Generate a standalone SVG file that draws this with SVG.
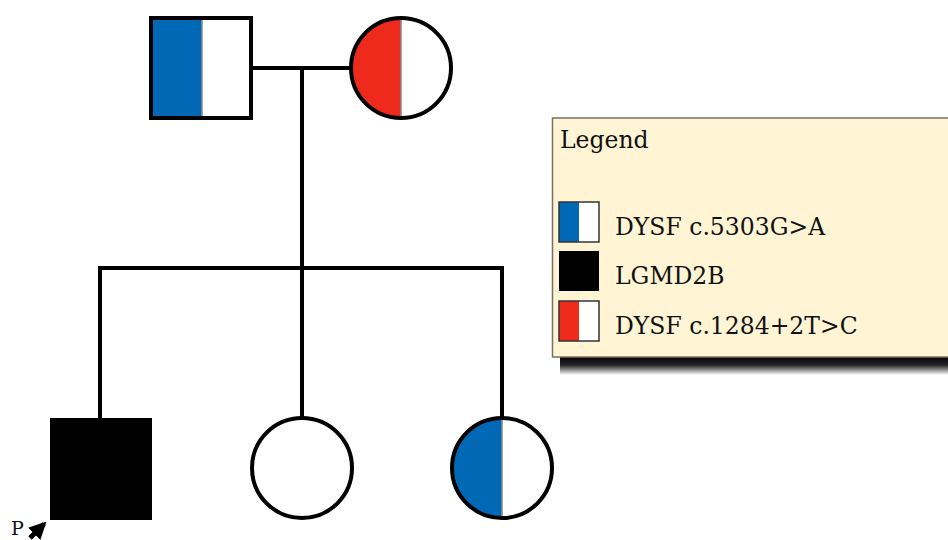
<svg xmlns="http://www.w3.org/2000/svg" width="948" height="540" viewBox="0 0 948 540">
<defs>
<style>
.ln{stroke:#000;stroke-width:4;fill:none}
.out{stroke:#000;stroke-width:4;fill:none}
.txt{font-family:"DejaVu Serif","Liberation Serif",serif;fill:#111}
.div{stroke:#888;stroke-width:1.5}
.sw{stroke:#333;stroke-width:1.5}
</style>
<linearGradient id="sh" x1="0" y1="0" x2="0" y2="1">
<stop offset="0" stop-color="#000" stop-opacity="1"/>
<stop offset="0.45" stop-color="#000" stop-opacity="0.85"/>
<stop offset="1" stop-color="#000" stop-opacity="0"/>
</linearGradient>
<clipPath id="cm"><circle cx="401" cy="68" r="50"/></clipPath>
<clipPath id="cd"><circle cx="502" cy="468" r="50"/></clipPath>
<marker id="ah" viewBox="0 0 10 10" refX="8" refY="5" markerWidth="3.5" markerHeight="3.5" orient="auto"><path d="M0,0 L10,5 L0,10 z" fill="#000"/></marker>
</defs>
<rect width="948" height="540" fill="#fff"/>
<g id="connectors">
<line class="ln" x1="252" y1="68" x2="351" y2="68"/>
<line class="ln" x1="302" y1="68" x2="302" y2="268"/>
<line class="ln" x1="98" y1="268" x2="504" y2="268"/>
<line class="ln" x1="100" y1="268" x2="100" y2="418"/>
<line class="ln" x1="302" y1="268" x2="302" y2="418"/>
<line class="ln" x1="502" y1="268" x2="502" y2="418"/>
</g>
<g id="father">
<rect x="151" y="18" width="51" height="100" fill="#0068b5"/>
<line class="div" x1="202" y1="18" x2="202" y2="118"/>
<rect class="out" x="151" y="18" width="100" height="100"/>
</g>
<g id="mother">
<rect x="351" y="18" width="50" height="100" fill="#ee2a1d" clip-path="url(#cm)"/>
<line class="div" x1="401" y1="18" x2="401" y2="118"/>
<circle class="out" cx="401" cy="68" r="50"/>
</g>
<g id="proband">
<rect x="50" y="418" width="102" height="102" fill="#000"/>
<text class="txt" x="11" y="535" font-size="19">P</text>
<line x1="30" y1="538" x2="44" y2="524" stroke="#000" stroke-width="5" marker-end="url(#ah)"/>
</g>
<g id="sister1">
<circle class="out" cx="302" cy="468" r="50" fill="#fff"/>
</g>
<g id="sister2">
<rect x="452" y="418" width="50" height="100" fill="#0068b5" clip-path="url(#cd)"/>
<line class="div" x1="502" y1="418" x2="502" y2="518"/>
<circle class="out" cx="502" cy="468" r="50"/>
</g>
<g id="legend">
<rect x="560" y="357" width="400" height="18" fill="url(#sh)"/>
<rect x="552.5" y="118" width="400" height="239" fill="#fff5d5" stroke="#7a7060" stroke-width="1.5"/>
<text class="txt" x="560" y="148" font-size="23.5">Legend</text>
<rect x="559" y="202" width="20" height="40" fill="#0068b5"/>
<rect x="579" y="202" width="20" height="40" fill="#fff"/>
<rect class="sw" x="559" y="202" width="40" height="40" fill="none"/>
<rect x="559" y="251" width="40" height="40" fill="#000"/>
<rect x="559" y="301" width="20" height="40" fill="#ee2a1d"/>
<rect x="579" y="301" width="20" height="40" fill="#fff"/>
<rect class="sw" x="559" y="301" width="40" height="40" fill="none"/>
<text class="txt" x="615" y="235" font-size="23.5">DYSF c.5303G&gt;A</text>
<text class="txt" x="615" y="284" font-size="23.5">LGMD2B</text>
<text class="txt" x="615" y="334" font-size="23.5">DYSF c.1284+2T&gt;C</text>
</g>
</svg>
